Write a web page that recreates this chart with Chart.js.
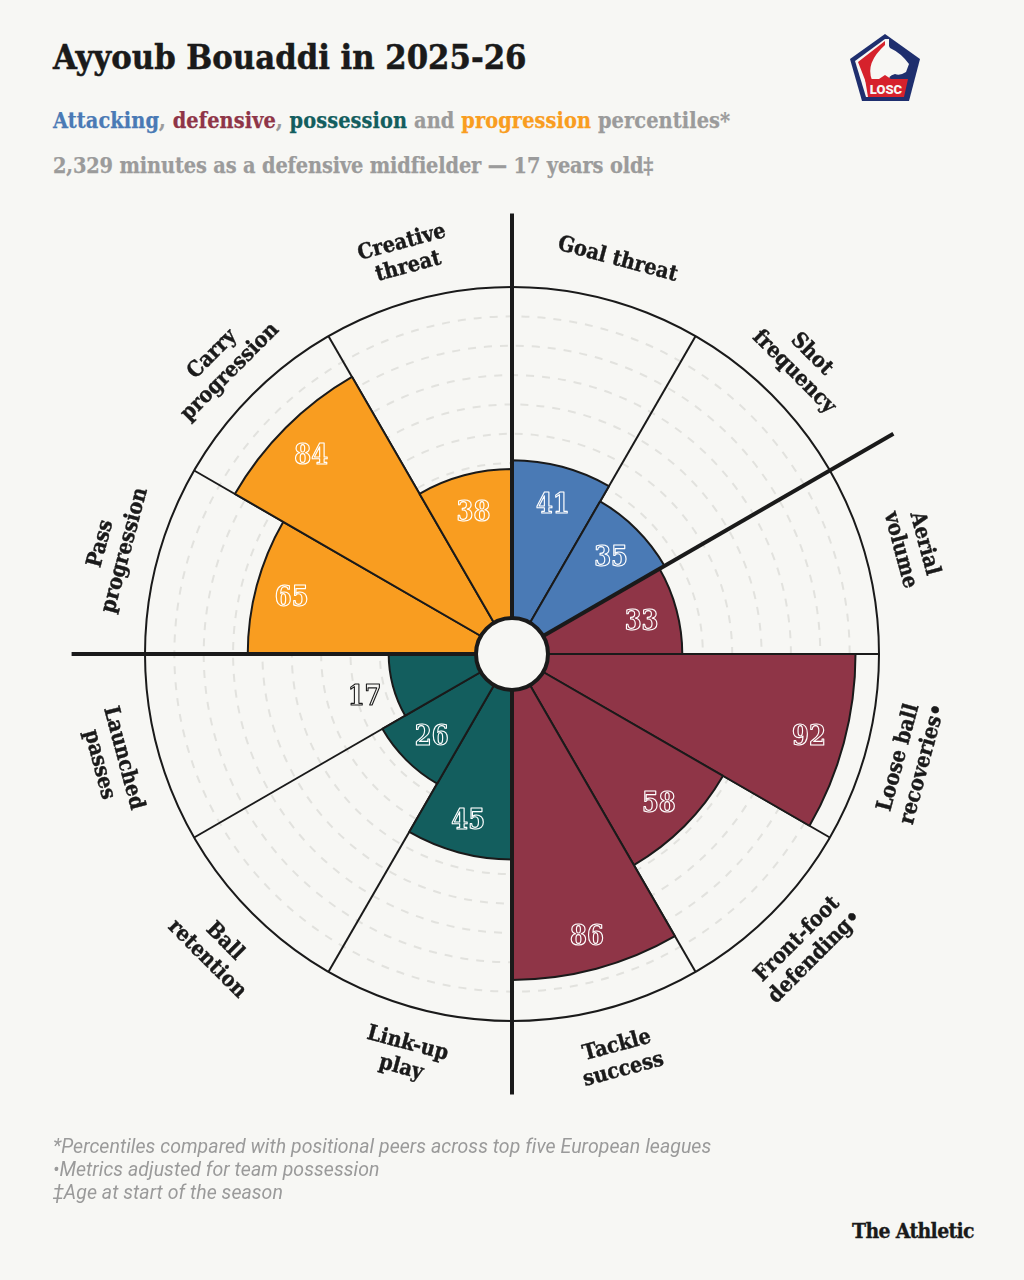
<!DOCTYPE html>
<html>
<head>
<meta charset="utf-8">
<title>Ayyoub Bouaddi in 2025-26</title>
<script src="https://cdn.jsdelivr.net/npm/chart.js@4"></script>
<style>
  html, body { margin: 0; padding: 0; background: #f7f7f4; }
  body { width: 1024px; height: 1280px; position: relative; overflow: hidden; }
  .line { position: absolute; white-space: nowrap; margin: 0; }
  .slab { font-family: "DejaVu Serif Condensed", "DejaVu Serif", serif; font-weight: 700; font-stretch: condensed; }
  #title { left: 53px; top: 35px; font-size: 34.2px; line-height: 44px; color: #1a1a1a; -webkit-text-stroke: 0.5px #1a1a1a; }
  #sub1 { left: 53px; top: 106px; font-size: 21.5px; line-height: 30px; color: #9b9b9b; letter-spacing: 0.1px; -webkit-text-stroke: 0.25px currentColor; }
  #sub2 { left: 53px; top: 151px; font-size: 21.5px; line-height: 30px; color: #9b9b9b; letter-spacing: -0.13px; -webkit-text-stroke: 0.25px currentColor; }
  .foot { left: 53px; font-family: Roboto, sans-serif; font-style: italic; font-size: 19.5px; line-height: 23px; color: #9a9a9a; letter-spacing: 0.05px; }
  #brand { left: 852px; top: 1217px; font-size: 21px; line-height: 28px; color: #1a1a1a; letter-spacing: -0.65px; -webkit-text-stroke: 0.3px #1a1a1a; }
  #logo { position: absolute; left: 849px; top: 33px; }
  canvas { position: absolute; left: 0; top: 142px; }
</style>
</head>
<body>
<h1 id="title" class="line slab">Ayyoub Bouaddi in 2025-26</h1>
<p id="sub1" class="line slab"><span style="color:#4a7ab5">Attacking</span>, <span style="color:#8f3547">defensive</span>, <span style="color:#135e5e">possession</span> and <span style="color:#f99d20">progression</span> percentiles*</p>
<p id="sub2" class="line slab">2,329 minutes as a defensive midfielder — 17 years old‡</p>

<svg id="logo" width="72" height="70" viewBox="0 0 72 70">
  <polygon points="36,1 71,26 60,68 13,68 1,26" fill="#1f2f6e"/>
  <polygon points="36,6 66,28 56,64 17,64 6,28" fill="#1f2f6e"/>
  <polygon points="36,6 6,28 17,64 40,64 40,6" fill="#f7f7f4"/>
  <path d="M38 9 L41 15 Q52 20 60 31 L57 39 Q51 43 46 41 Q38 43 41 48 L30 50 L20 30 Z" fill="#f7f7f4"/>
  <path d="M36 8 L9 29 L18 52 L23 47 Q16 30 36 12 Z" fill="#d6222c"/>
  <polygon points="16,46 30,46 36,42 42,46 59,46 55,64 19,64" fill="#d6222c"/>
  <text x="37" y="61" text-anchor="middle" font-family="Roboto, sans-serif" font-weight="900" font-size="13" fill="#f7f7f4">LOSC</text>
</svg>

<canvas id="wheel" width="1024" height="1024"></canvas>

<p class="line foot" style="top:1135px">*Percentiles compared with positional peers across top five European leagues</p>
<p class="line foot" style="top:1158px">•Metrics adjusted for team possession</p>
<p class="line foot" style="top:1181px">‡Age at start of the season</p>
<p id="brand" class="line slab">The Athletic</p>

<script>
// clockwise from twelve o'clock
const metrics = [
    'Goal threat', 'Shot frequency', 'Aerial volume', 'Loose ball recoveries•',
    'Front-foot defending•', 'Tackle success', 'Link-up play', 'Ball retention',
    'Launched passes', 'Pass progression', 'Carry progression', 'Creative threat'
];
const percentiles = [41, 35, 33, 92, 58, 86, 45, 26, 17, 65, 84, 38];
const ringTicks = [10, 20, 30, 40, 50, 60, 70, 80, 90, 100];

const BLUE = '#4a7ab5', RED = '#8f3547', TEAL = '#135e5e', ORANGE = '#f99d20';
const INK = '#1a1a1a', PAPER = '#f7f7f4';
const sectorColors = [BLUE, BLUE, RED, RED, RED, RED, TEAL, TEAL, TEAL, ORANGE, ORANGE, ORANGE];

// where metric text wraps
const labelLines = [
    ['Goal threat'], ['Shot', 'frequency'], ['Aerial', 'volume'], ['Loose ball', 'recoveries•'],
    ['Front-foot', 'defending•'], ['Tackle', 'success'], ['Link-up', 'play'], ['Ball', 'retention'],
    ['Launched', 'passes'], ['Pass', 'progression'], ['Carry', 'progression'], ['Creative', 'threat']
];

const SCALE_MIN = -25, SCALE_MAX = 100;
const AXIS_END = 125;            // heavy axes overshoot the outer ring
const HEAVY_AXES = [0, 2, 6, 9]; // spokes that split the four groups
const HUB_RADIUS = 36;
const LABEL_VALUE = 114;         // scale value the metric text sits at
const labelNudge = [0, 3, 6, 5, 8, 10, 8, 11, 7, 5, 3, 5]; // px outward, per label

const wheelLabels = {
    id: 'wheelLabels',
    afterDatasetsDraw(chart) {
        const scale = chart.scales.r;
        const ctx = chart.ctx;

        // heavy axes
        ctx.save();
        ctx.strokeStyle = INK;
        ctx.lineWidth = 4;
        HEAVY_AXES.forEach(i => {
            const end = scale.getPointPosition(i, scale.getDistanceFromCenterForValue(AXIS_END));
            ctx.beginPath();
            ctx.moveTo(scale.xCenter, scale.yCenter);
            ctx.lineTo(end.x, end.y);
            ctx.stroke();
        });

        // hub
        ctx.beginPath();
        ctx.arc(scale.xCenter, scale.yCenter, HUB_RADIUS, 0, Math.PI * 2);
        ctx.fillStyle = PAPER;
        ctx.fill();
        ctx.stroke();

        // percentile numbers
        ctx.textAlign = 'center';
        ctx.textBaseline = 'middle';
        ctx.font = '700 27px "DejaVu Serif Condensed"';
        ctx.lineJoin = 'round';
        percentiles.forEach((v, i) => {
            const outside = v < 20;
            const at = outside ? v + 10 : v - 12.3;
            const p = scale.getPointPosition(i + 0.5, scale.getDistanceFromCenterForValue(at));
            ctx.lineWidth = 1.1;
            ctx.strokeStyle = outside ? INK : '#ffffff';
            ctx.fillStyle = outside ? PAPER : sectorColors[i];
            ctx.fillText(String(v), p.x, p.y + 4);
            ctx.strokeText(String(v), p.x, p.y + 4);
        });

        // metric names, turned along the ring
        ctx.font = '700 21.5px "DejaVu Serif Condensed"';
        ctx.fillStyle = INK;
        ctx.strokeStyle = INK;
        ctx.lineWidth = 0.4;
        const lineGap = 25;
        labelLines.forEach((lines, i) => {
            const dist = scale.getDistanceFromCenterForValue(LABEL_VALUE) + labelNudge[i];
            const p = scale.getPointPosition(i + 0.5, dist);
            const deg = (i + 0.5) * 30;
            const flip = deg > 90 && deg < 270;
            ctx.save();
            ctx.translate(p.x, p.y);
            ctx.rotate((flip ? deg - 180 : deg) * Math.PI / 180);
            lines.forEach((text, n) => {
                const y = (n - (lines.length - 1) / 2) * lineGap;
                ctx.fillText(text, 0, y);
                ctx.strokeText(text, 0, y);
            });
            ctx.restore();
        });
        ctx.restore();
    }
};

new Chart(document.getElementById('wheel'), {
    type: 'polarArea',
    data: {
        labels: metrics,
        datasets: [{
            data: percentiles,
            backgroundColor: sectorColors,
            borderColor: INK,
            borderWidth: 2
        }]
    },
    options: {
        responsive: false,
        animation: false,
        layout: { padding: 145 },
        plugins: { legend: { display: false }, tooltip: { enabled: false } },
        scales: {
            r: {
                min: SCALE_MIN,
                max: SCALE_MAX,
                afterBuildTicks: scale => { scale.ticks = ringTicks.map(value => ({ value })); },
                ticks: { display: false },
                pointLabels: { display: false },
                angleLines: { display: true, color: INK, lineWidth: 2 },
                grid: {
                    circular: true,
                    color: c => c.tick.value === SCALE_MAX ? INK : '#e2e2de',
                    lineWidth: 2
                },
                border: {
                    dash: c => c.tick.value === SCALE_MAX ? [] : [8, 8]
                }
            }
        }
    },
    plugins: [wheelLabels]
});
</script>
</body>
</html>
